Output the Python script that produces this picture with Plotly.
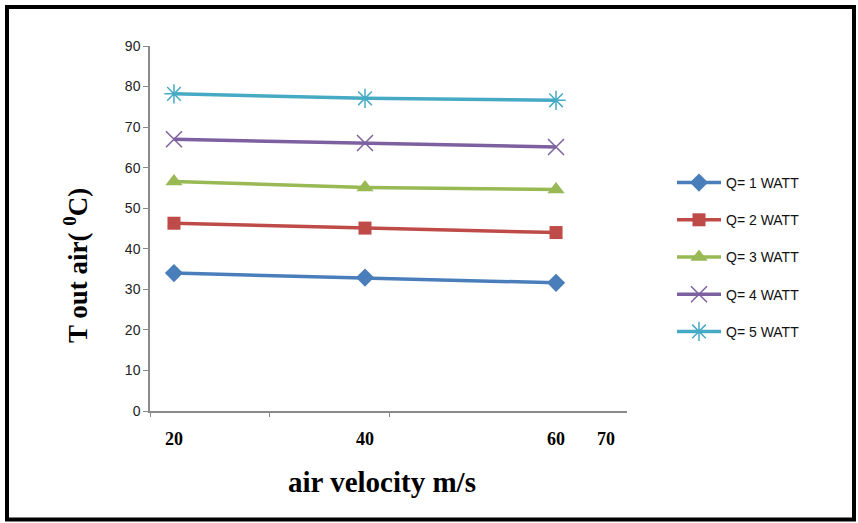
import plotly.graph_objects as go

# ---- data ----
air_velocity = [20, 40, 60]
q1 = [34.0, 32.9, 31.6]
q2 = [46.3, 45.1, 44.0]
q3 = [56.6, 55.1, 54.6]
q4 = [67.0, 66.1, 65.1]
q5 = [78.2, 77.1, 76.6]
series_names = ["Q= 1 WATT", "Q= 2 WATT", "Q= 3 WATT", "Q= 4 WATT", "Q= 5 WATT"]
x_tick_labels = ["20", "40", "60", "70"]
y_tick_values = [0, 10, 20, 30, 40, 50, 60, 70, 80, 90]

# ---- styling ----
x_tick_positions = [20, 40, 60, 65.24]
x_minor_positions = [17.49, 29.95, 42.52]
colors = ["#4A7EBB", "#BE4B48", "#98B954", "#7D60A0", "#46AAC5"]
symbols = ["diamond", "square", "triangle-up", "x-thin-open", "asterisk-open"]
sizes = [14, 13, 15, 16, 16]

fig = go.Figure()
for i, (name, ys) in enumerate(zip(series_names, [q1, q2, q3, q4, q5])):
    open_sym = symbols[i].endswith("open")
    fig.add_trace(go.Scatter(
        x=air_velocity, y=ys, name=name, mode="lines+markers",
        legendgroup=name,
        line=dict(color=colors[i], width=3.5),
        marker=dict(symbol=symbols[i], size=sizes[i], color=colors[i],
                    line=dict(color=colors[i], width=1.5 if open_sym else 0)),
    ))

L, R, T, B = 150, 231, 46, 112
W, H = 858, 523
pw, ph = W - L - R, H - T - B

def px(xp):
    return (xp - L) / pw

def py(yp):
    return (H - B - yp) / ph

fig.update_layout(
    width=W, height=H,
    margin=dict(l=L, r=R, t=T, b=B),
    paper_bgcolor="white", plot_bgcolor="white",
    showlegend=True,
    legend=dict(x=px(672), xanchor="left", y=py(257), yanchor="middle",
                itemwidth=44,
                font=dict(family="Liberation Sans, Arial", size=14, color="#111"),
                tracegroupgap=16, bgcolor="rgba(0,0,0,0)"),
    xaxis=dict(range=[17.49, 67.43], showgrid=False, zeroline=False,
               showline=True, linecolor="#8a8a8a", linewidth=1.5,
               tickmode="array", tickvals=x_tick_positions, ticktext=x_tick_labels,
               ticks="", ticklabelstandoff=11,
               tickfont=dict(family="Liberation Serif, Times New Roman", size=18, color="#000", weight="bold"),
               minor=dict(tickmode="array", tickvals=x_minor_positions, ticks="outside",
                          ticklen=4, tickcolor="#8a8a8a", tickwidth=1)),
    yaxis=dict(range=[0, 90], showgrid=False, zeroline=False,
               showline=True, linecolor="#8a8a8a", linewidth=1.5,
               tickmode="array", tickvals=y_tick_values,
               ticks="outside", ticklen=5, tickcolor="#8a8a8a",
               tickfont=dict(family="Liberation Sans, Arial", size=14, color="#222")),
    font=dict(family="Liberation Sans, Arial"),
    shapes=[dict(type="rect", xref="paper", yref="paper",
                 x0=px(7), x1=px(854), y0=py(519.5), y1=py(7),
                 line=dict(color="#000", width=4), fillcolor="rgba(0,0,0,0)", layer="above")],
    annotations=[
        dict(text="<b>air velocity m/s</b>", xref="paper", yref="paper",
             x=px(382), y=py(482), xanchor="center", yanchor="middle", showarrow=False,
             font=dict(family="Liberation Serif, Times New Roman", size=29, color="#000")),
        dict(text="<b>T out air( </b><sup><b>0</b></sup><b>C)</b>", xref="paper", yref="paper",
             x=px(76), y=py(266), xanchor="center", yanchor="middle", showarrow=False,
             textangle=-90,
             font=dict(family="Liberation Serif, Times New Roman", size=27, color="#000")),
    ],
)

fig.write_html("out.html")
